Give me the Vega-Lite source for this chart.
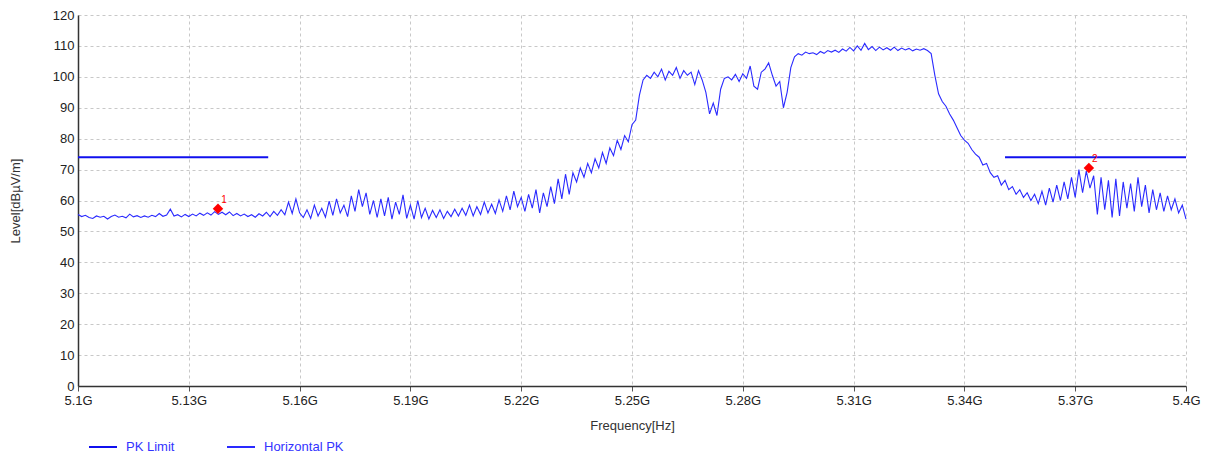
{
  "$schema": "https://vega.github.io/schema/vega-lite/v6.json",
  "width": 1108,
  "height": 371,
  "autosize": "none",
  "padding": {"left": 78, "top": 15, "right": 22, "bottom": 69},
  "background": "white",
  "config": {
    "view": {"stroke": null},
    "font": "Liberation Sans",
    "axis": {
      "labelFont": "Liberation Sans",
      "titleFont": "Liberation Sans",
      "labelColor": "#222222",
      "titleColor": "#333333",
      "labelFontSize": 13,
      "titleFontSize": 13,
      "titleFontWeight": "normal",
      "gridColor": "#c8c8c8",
      "gridDash": [3, 3],
      "gridWidth": 1,
      "domainColor": "#333333",
      "domainWidth": 1.5,
      "tickColor": "#555555"
    }
  },
  "datasets": {
    "limit": [
      {"f": 5100, "v": 74, "seg": "a"},
      {"f": 5151.5, "v": 74, "seg": "a"},
      {"f": 5351, "v": 74, "seg": "b"},
      {"f": 5400, "v": 74, "seg": "b"}
    ],
    "markers": [
      {"f": 5137.9, "v": 57.3, "n": "1"},
      {"f": 5373.7, "v": 70.5, "n": "2"}
    ],
    "trace": [
      {"f":5100,"v":55.5},{"f":5101,"v":54.8},{"f":5102,"v":55.2},{"f":5103,"v":54.5},{"f":5104,"v":54.2},
      {"f":5105,"v":55.0},{"f":5106,"v":54.6},{"f":5107,"v":54.9},{"f":5108,"v":54.0},{"f":5109,"v":54.8},
      {"f":5110,"v":55.3},{"f":5111,"v":54.6},{"f":5112,"v":54.9},{"f":5113,"v":54.4},{"f":5114,"v":55.6},
      {"f":5115,"v":54.7},{"f":5116,"v":55.1},{"f":5117,"v":54.5},{"f":5118,"v":55.0},{"f":5119,"v":54.6},
      {"f":5120,"v":55.2},{"f":5121,"v":54.8},{"f":5122,"v":55.8},{"f":5123,"v":54.9},{"f":5124,"v":55.3},
      {"f":5125,"v":57.2},{"f":5126,"v":55.0},{"f":5127,"v":55.4},{"f":5128,"v":54.7},{"f":5129,"v":55.5},
      {"f":5130,"v":54.8},{"f":5131,"v":55.6},{"f":5132,"v":55.0},{"f":5133,"v":55.9},{"f":5134,"v":55.2},
      {"f":5135,"v":56.0},{"f":5136,"v":55.3},{"f":5137,"v":56.4},{"f":5138,"v":55.5},{"f":5139,"v":56.2},
      {"f":5140,"v":55.4},{"f":5141,"v":56.3},{"f":5142,"v":55.1},{"f":5143,"v":55.8},{"f":5144,"v":55.0},
      {"f":5145,"v":55.6},{"f":5146,"v":54.8},{"f":5147,"v":55.4},{"f":5148,"v":54.6},{"f":5149,"v":55.7},
      {"f":5150,"v":55.0},{"f":5151,"v":56.2},{"f":5152,"v":54.8},{"f":5153,"v":56.5},{"f":5154,"v":55.2},
      {"f":5155,"v":57.0},{"f":5156,"v":55.4},{"f":5157,"v":59.5},{"f":5158,"v":55.8},{"f":5159,"v":60.5},
      {"f":5160,"v":56.0},{"f":5161,"v":54.5},{"f":5162,"v":57.0},{"f":5163,"v":54.2},{"f":5164,"v":58.5},
      {"f":5165,"v":55.0},{"f":5166,"v":57.5},{"f":5167,"v":54.6},{"f":5168,"v":59.8},{"f":5169,"v":55.2},
      {"f":5170,"v":60.5},{"f":5171,"v":56.0},{"f":5172,"v":58.5},{"f":5173,"v":54.8},{"f":5174,"v":61.5},
      {"f":5175,"v":56.5},{"f":5176,"v":63.5},{"f":5177,"v":58.0},{"f":5178,"v":62.5},{"f":5179,"v":55.5},
      {"f":5180,"v":60.0},{"f":5181,"v":54.5},{"f":5182,"v":60.5},{"f":5183,"v":55.0},{"f":5184,"v":61.0},
      {"f":5185,"v":54.0},{"f":5186,"v":59.5},{"f":5187,"v":55.5},{"f":5188,"v":61.8},{"f":5189,"v":54.2},
      {"f":5190,"v":58.5},{"f":5191,"v":54.0},{"f":5192,"v":60.0},{"f":5193,"v":54.5},{"f":5194,"v":57.5},
      {"f":5195,"v":54.0},{"f":5196,"v":56.8},{"f":5197,"v":54.5},{"f":5198,"v":57.0},{"f":5199,"v":54.2},
      {"f":5200,"v":56.5},{"f":5201,"v":54.8},{"f":5202,"v":57.2},{"f":5203,"v":55.0},{"f":5204,"v":57.5},
      {"f":5205,"v":55.2},{"f":5206,"v":58.5},{"f":5207,"v":55.0},{"f":5208,"v":58.0},{"f":5209,"v":55.5},
      {"f":5210,"v":59.5},{"f":5211,"v":56.0},{"f":5212,"v":58.8},{"f":5213,"v":55.8},{"f":5214,"v":60.2},
      {"f":5215,"v":56.5},{"f":5216,"v":61.5},{"f":5217,"v":57.0},{"f":5218,"v":63.0},{"f":5219,"v":58.0},
      {"f":5220,"v":61.0},{"f":5221,"v":56.5},{"f":5222,"v":62.0},{"f":5223,"v":57.5},{"f":5224,"v":63.5},
      {"f":5225,"v":56.0},{"f":5226,"v":62.5},{"f":5227,"v":58.0},{"f":5228,"v":64.5},{"f":5229,"v":59.0},
      {"f":5230,"v":67.0},{"f":5231,"v":60.5},{"f":5232,"v":68.5},{"f":5233,"v":62.0},{"f":5234,"v":69.0},
      {"f":5235,"v":66.0},{"f":5236,"v":70.5},{"f":5237,"v":67.5},{"f":5238,"v":72.0},{"f":5239,"v":69.0},
      {"f":5240,"v":73.5},{"f":5241,"v":70.5},{"f":5242,"v":75.5},{"f":5243,"v":72.0},{"f":5244,"v":77.0},
      {"f":5245,"v":74.5},{"f":5246,"v":79.5},{"f":5247,"v":76.5},{"f":5248,"v":81.0},{"f":5249,"v":79.0},
      {"f":5250,"v":84.5},{"f":5251,"v":86.0},{"f":5252,"v":94.0},{"f":5253,"v":99.0},{"f":5254,"v":100.5},
      {"f":5255,"v":99.5},{"f":5256,"v":101.5},{"f":5257,"v":100.0},{"f":5258,"v":102.5},{"f":5259,"v":99.0},
      {"f":5260,"v":101.8},{"f":5261,"v":100.5},{"f":5262,"v":103.0},{"f":5263,"v":99.5},{"f":5264,"v":102.0},
      {"f":5265,"v":100.5},{"f":5266,"v":101.5},{"f":5267,"v":97.5},{"f":5268,"v":102.0},{"f":5269,"v":99.0},
      {"f":5270,"v":95.0},{"f":5271,"v":88.0},{"f":5272,"v":91.5},{"f":5273,"v":87.5},{"f":5274,"v":96.0},
      {"f":5275,"v":99.5},{"f":5276,"v":100.0},{"f":5277,"v":99.0},{"f":5278,"v":100.8},{"f":5279,"v":98.5},
      {"f":5280,"v":101.0},{"f":5281,"v":99.5},{"f":5282,"v":103.5},{"f":5283,"v":97.0},{"f":5284,"v":96.0},
      {"f":5285,"v":101.5},{"f":5286,"v":102.5},{"f":5287,"v":104.5},{"f":5288,"v":100.5},{"f":5289,"v":97.0},
      {"f":5290,"v":98.5},{"f":5291,"v":90.0},{"f":5292,"v":95.0},{"f":5293,"v":103.0},{"f":5294,"v":106.5},
      {"f":5295,"v":107.5},{"f":5296,"v":107.0},{"f":5297,"v":108.0},{"f":5298,"v":107.5},{"f":5299,"v":107.8},
      {"f":5300,"v":107.2},{"f":5301,"v":108.2},{"f":5302,"v":107.6},{"f":5303,"v":108.5},{"f":5304,"v":108.0},
      {"f":5305,"v":108.6},{"f":5306,"v":107.9},{"f":5307,"v":109.0},{"f":5308,"v":108.3},{"f":5309,"v":109.5},
      {"f":5310,"v":108.4},{"f":5311,"v":110.0},{"f":5312,"v":108.6},{"f":5313,"v":110.8},{"f":5314,"v":108.8},
      {"f":5315,"v":109.8},{"f":5316,"v":108.5},{"f":5317,"v":109.6},{"f":5318,"v":108.7},{"f":5319,"v":109.4},
      {"f":5320,"v":108.6},{"f":5321,"v":109.6},{"f":5322,"v":108.5},{"f":5323,"v":109.3},{"f":5324,"v":108.7},
      {"f":5325,"v":109.2},{"f":5326,"v":108.4},{"f":5327,"v":109.0},{"f":5328,"v":108.6},{"f":5329,"v":109.1},
      {"f":5330,"v":108.5},{"f":5331,"v":107.5},{"f":5332,"v":100.5},{"f":5333,"v":94.5},{"f":5334,"v":92.0},
      {"f":5335,"v":90.5},{"f":5336,"v":88.0},{"f":5337,"v":86.0},{"f":5338,"v":83.5},{"f":5339,"v":81.0},
      {"f":5340,"v":79.5},{"f":5341,"v":78.5},{"f":5342,"v":76.5},{"f":5343,"v":75.0},{"f":5344,"v":74.0},
      {"f":5345,"v":71.5},{"f":5346,"v":72.0},{"f":5347,"v":69.0},{"f":5348,"v":67.5},{"f":5349,"v":68.0},
      {"f":5350,"v":65.0},{"f":5351,"v":66.5},{"f":5352,"v":63.5},{"f":5353,"v":64.5},{"f":5354,"v":62.0},
      {"f":5355,"v":63.5},{"f":5356,"v":61.0},{"f":5357,"v":62.5},{"f":5358,"v":60.0},{"f":5359,"v":62.0},
      {"f":5360,"v":59.0},{"f":5361,"v":63.0},{"f":5362,"v":58.5},{"f":5363,"v":64.0},{"f":5364,"v":59.5},
      {"f":5365,"v":65.0},{"f":5366,"v":60.0},{"f":5367,"v":66.0},{"f":5368,"v":60.5},{"f":5369,"v":67.5},
      {"f":5370,"v":61.0},{"f":5371,"v":70.0},{"f":5372,"v":62.5},{"f":5373,"v":69.5},{"f":5374,"v":64.0},
      {"f":5375,"v":68.0},{"f":5376,"v":55.5},{"f":5377,"v":67.5},{"f":5378,"v":57.0},{"f":5379,"v":66.5},
      {"f":5380,"v":54.5},{"f":5381,"v":67.0},{"f":5382,"v":55.0},{"f":5383,"v":66.0},{"f":5384,"v":57.5},
      {"f":5385,"v":65.5},{"f":5386,"v":56.5},{"f":5387,"v":67.5},{"f":5388,"v":58.0},{"f":5389,"v":65.0},
      {"f":5390,"v":56.0},{"f":5391,"v":63.5},{"f":5392,"v":57.0},{"f":5393,"v":62.5},{"f":5394,"v":56.5},
      {"f":5395,"v":61.5},{"f":5396,"v":57.0},{"f":5397,"v":60.5},{"f":5398,"v":56.0},{"f":5399,"v":58.5},
      {"f":5400,"v":54.0}
    ]
  },
  "encoding": {
    "x": {
      "field": "f",
      "type": "quantitative",
      "scale": {"domain": [5100, 5400], "nice": false, "zero": false},
      "axis": {
        "values": [5100, 5130, 5160, 5190, 5220, 5250, 5280, 5310, 5340, 5370, 5400],
        "labelExpr": "(datum.value / 1000) + 'G'",
        "title": "Frequency[Hz]",
        "tickSize": 5,
        "labelPadding": 3,
        "titlePadding": 12,
        "labelFlush": false
      }
    },
    "y": {
      "field": "v",
      "type": "quantitative",
      "scale": {"domain": [0, 120], "nice": false},
      "axis": {
        "values": [0, 10, 20, 30, 40, 50, 60, 70, 80, 90, 100, 110, 120],
        "title": "Level[dBµV/m]",
        "ticks": false,
        "labelPadding": 4,
        "titlePadding": 30
      }
    }
  },
  "layer": [
    {
      "data": {"name": "limit"},
      "mark": {"type": "line", "strokeWidth": 2},
      "encoding": {
        "detail": {"field": "seg"},
        "color": {
          "datum": "PK Limit",
          "scale": {"domain": ["PK Limit", "Horizontal PK"], "range": ["#1010ee", "#2a2aff"]},
          "legend": {
            "title": null,
            "orient": "none",
            "legendX": 10,
            "legendY": 417,
            "direction": "horizontal",
            "symbolType": "stroke",
            "symbolSize": 784,
            "symbolStrokeWidth": 2,
            "labelColor": "#3333ff",
            "labelFont": "Liberation Sans",
            "labelFontSize": 13,
            "columnPadding": 48,
            "labelOffset": 8
          }
        }
      }
    },
    {
      "data": {"name": "trace"},
      "mark": {"type": "line", "strokeWidth": 1.1},
      "encoding": {
        "color": {"datum": "Horizontal PK"}
      }
    },
    {
      "data": {"name": "markers"},
      "mark": {"type": "point", "shape": "diamond", "filled": true, "color": "#ff0000", "size": 110, "opacity": 1},
      "encoding": {}
    },
    {
      "data": {"name": "markers"},
      "mark": {"type": "text", "color": "#ff0000", "fontSize": 10, "dx": 6, "dy": -9, "font": "Liberation Sans"},
      "encoding": {"text": {"field": "n"}}
    }
  ]
}
